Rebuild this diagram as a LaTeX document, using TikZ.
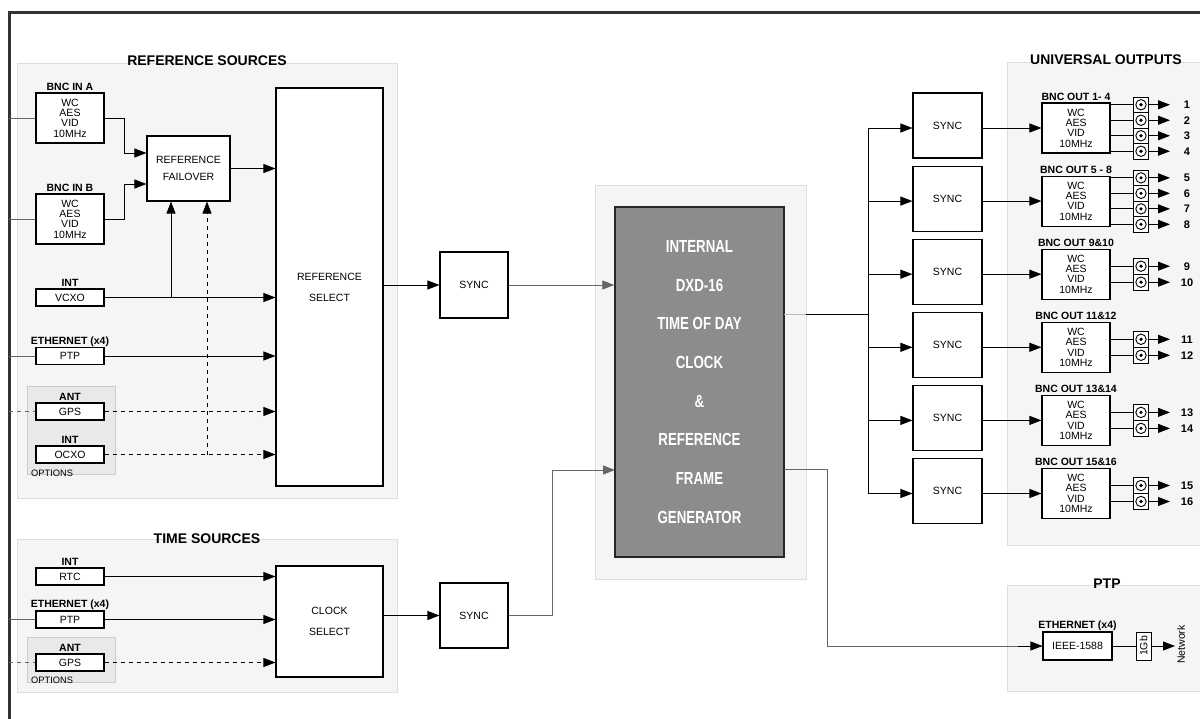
\documentclass[tikz,border=0pt]{standalone}
\usepackage{fontspec}
\setmainfont{Liberation Sans}
\newfontfamily\condfont[FakeStretch=0.76]{Liberation Sans}
\usepackage{tikz}
\usetikzlibrary{shapes,positioning,calc}
\usetikzlibrary{arrows.meta}
\definecolor{panelfill}{HTML}{F5F5F5}
\definecolor{panelline}{HTML}{DDDDDD}
\definecolor{optfill}{HTML}{E9E9E9}
\definecolor{optline}{HTML}{CCCCCC}
\definecolor{genfill}{HTML}{8C8C8C}
\definecolor{wiregray}{HTML}{666666}
\definecolor{framegray}{HTML}{333333}
\definecolor{lightline}{HTML}{BBBBBB}
\tikzstyle{source} = [rectangle, draw=black, line width=1.1pt, fill=white, minimum width=68pt, minimum height=17pt, inner sep=0pt, align=center, font=\fontsize{10.5}{10.3}\selectfont]
\tikzstyle{bncbox} = [source, minimum height=50pt]
\tikzstyle{block} = [rectangle, draw=black, line width=1.1pt, fill=white, inner sep=0pt, align=center, font=\fontsize{10.5}{21}\selectfont]
\tikzstyle{gen} = [rectangle, draw=black!85, line width=1.5pt, fill=genfill, minimum width=169pt, minimum height=350pt, inner sep=0pt, text=white, align=center, font=\condfont\bfseries\fontsize{17.5}{38.7}\selectfont]
\tikzstyle{tag} = [inner sep=0pt, text depth=0pt, font=\bfseries\fontsize{10.5}{12}\selectfont]
\tikzstyle{title} = [inner sep=0pt, font=\bfseries\fontsize{14}{16}\selectfont]
\tikzstyle{jack} = [rectangle, draw=black, line width=0.8pt, fill=white, minimum size=15.5pt, inner sep=0pt,
  path picture={\draw[black, line width=0.9pt] (path picture bounding box.center) circle (5.2pt);
  \fill[black] (path picture bounding box.center) circle (1.8pt);}]
\tikzstyle{panel} = [draw=panelline, fill=panelfill, line width=0.8pt]
\tikzstyle{options} = [draw=optline, fill=optfill, line width=1pt]
\tikzstyle{wire} = [line width=0.9pt, draw=wiregray]
\tikzstyle{arrow} = [line width=0.9pt, -{Triangle[length=12pt,width=9pt,color=black]}]
\tikzstyle{dasharrow} = [arrow, dash pattern=on 4pt off 4pt]
\tikzstyle{grayarrow} = [line width=0.9pt, draw=wiregray, -{Triangle[length=12pt,width=9pt,color=wiregray]}]

\begin{document}
\begin{tikzpicture}[x=1pt,y=-1pt]
\useasboundingbox (0,0) rectangle (1200,719);
% outer frame
\draw[line width=3pt, draw=framegray] (9,725) -- (9,12.5) -- (1210,12.5);
\coordinate (frame) at (9,0);

% panels
\draw[panel] (17,63) rectangle (397,498);
\node (reftitle) at (207,66) [title, anchor=base] {REFERENCE SOURCES};
\draw[panel] (17,539) rectangle (397,692);
\node (timetitle) at (207,543) [title, anchor=base] {TIME SOURCES};
\draw[panel] (595,185) rectangle (806,579);
\draw[panel] (1007,62) rectangle (1215,545);
\node (outtitle) at (1106,65) [title, anchor=base] {UNIVERSAL OUTPUTS};
\draw[panel] (1007,585) rectangle (1215,691);
\node (ptptitle) at (1107,588) [title, anchor=base] {PTP};
\draw[options] (27,387) rectangle (115,474);
\node (opt1) at (31,476) [anchor=base west, inner sep=0pt, font=\fontsize{9.3}{11}\selectfont] {OPTIONS};
\draw[options] (27,637) rectangle (115,682);
\node (opt2) at (31,683) [anchor=base west, inner sep=0pt, font=\fontsize{9.3}{11}\selectfont] {OPTIONS};

% reference sources
\node (bnca) at (70,118) [bncbox] {WC\\AES\\VID\\10MHz};
\node (lbla) [tag, above=2pt of bnca] {BNC IN A};
\node (bncb) at (70,219) [bncbox] {WC\\AES\\VID\\10MHz};
\node (lblb) [tag, above=2pt of bncb] {BNC IN B};
\node (vcxo) at (70,297.5) [source] {VCXO};
\node (lblv) [tag, above=2pt of vcxo] {INT};
\node (ptp) at (70,356) [source] {PTP};
\node (lblp) [tag, above=2.5pt of ptp] {ETHERNET (x4)};
\node (gps) at (70,411.5) [source] {GPS};
\node (lblg) [tag, above=2pt of gps] {ANT};
\node (ocxo) at (70,454.5) [source] {OCXO};
\node (lblo) [tag, above=2pt of ocxo] {INT};
\node (failover) at (188.5,168.5) [block, minimum width=83pt, minimum height=65pt, font=\fontsize{10.5}{17}\selectfont] {REFERENCE\\FAILOVER};
\node (refsel) at (329.5,287) [block, minimum width=107pt, minimum height=398pt] {REFERENCE\\SELECT};

\foreach \b in {bnca,bncb,ptp}
  \draw[wire] (\b.west -| frame) -- (\b.west);
\draw[wire, dash pattern=on 4pt off 4pt] (gps.west -| frame) -- (gps.west);

\draw[arrow] (bnca.east) -- ++(20,0) |- ($(failover.west)+(0,-15.5)$);
\draw[arrow] (bncb.east) -- ++(20,0) |- ($(failover.west)+(0,15.5)$);
\draw[arrow] (failover.east) -- (failover.east -| refsel.west);
\draw[arrow] (vcxo.east) -- (vcxo.east -| refsel.west);
\coordinate (tap) at (171,297.5);
\draw[arrow] (tap) -- (tap |- failover.south);
\coordinate (tapd) at (207,454.5);
\draw[dasharrow] (tapd) -- (tapd |- failover.south);
\draw[arrow] (ptp.east) -- (ptp.east -| refsel.west);
\draw[dasharrow] (gps.east) -- (gps.east -| refsel.west);
\draw[dasharrow] (ocxo.east) -- (ocxo.east -| refsel.west);

% time sources
\node (rtc) at (70,576.5) [source] {RTC};
\node (lblr) [tag, above=2pt of rtc] {INT};
\node (ptpt) at (70,619.5) [source] {PTP};
\node (lblpt) [tag, above=2.5pt of ptpt] {ETHERNET (x4)};
\node (gpst) at (70,662.5) [source] {GPS};
\node (lblgt) [tag, above=2pt of gpst] {ANT};
\node (clksel) at (329.5,621.5) [block, minimum width=107pt, minimum height=111pt] {CLOCK\\SELECT};
\draw[wire] (ptpt.west -| frame) -- (ptpt.west);
\draw[wire, dash pattern=on 4pt off 4pt] (gpst.west -| frame) -- (gpst.west);
\draw[arrow] (rtc.east) -- (rtc.east -| clksel.west);
\draw[arrow] (ptpt.east) -- (ptpt.east -| clksel.west);
\draw[dasharrow] (gpst.east) -- (gpst.east -| clksel.west);

% sync to generator
\node (sync1) at (474,285) [block, minimum width=68pt, minimum height=66pt] {SYNC};
\node (sync2) at (474,615.5) [block, minimum width=68pt, minimum height=65pt] {SYNC};
\draw[arrow] (refsel.east |- sync1) -- (sync1.west);
\draw[arrow] (clksel.east |- sync2) -- (sync2.west);
\node (gen) at (699.5,382) [gen] {INTERNAL\\DXD-16\\TIME OF DAY\\CLOCK\\\&\\REFERENCE\\FRAME\\GENERATOR};
\coordinate (gin2) at (615,470);
\draw[grayarrow] (sync1.east) -- (sync1.east -| gen.west);
\draw[grayarrow] (sync2.east) -- ++(44,0) |- (gin2);

% universal outputs
\coordinate (gout1) at (784,314);
\coordinate (panelout) at (806,314);
\coordinate (busc) at (868,314);
\draw[line width=0.9pt, draw=lightline] (gout1) -- (panelout);
\draw[line width=0.9pt] (panelout) -- (busc);
\foreach \i/\name in {1/{BNC OUT 1- 4},2/{BNC OUT 5 - 8},3/{BNC OUT 9\&10},4/{BNC OUT 11\&12},5/{BNC OUT 13\&14},6/{BNC OUT 15\&16}}{
  \pgfmathsetmacro\y{128+73.1*(\i-1)}
  \coordinate (bus\i) at (868,\y);
  \node (syncr\i) at (947.5,\y-2.5) [block, minimum width=69pt, minimum height=65pt] {SYNC};
  \node (bnc\i) at (1076,\y) [bncbox] {WC\\AES\\VID\\10MHz};
  \node (bnclbl\i) [tag, above=2pt of bnc\i] {\name};
  \draw[arrow] (bus\i) -- (bus\i -| syncr\i.west);
  \draw[arrow] (syncr\i.east |- bus\i) -- (bnc\i.west);
}
\draw[line width=0.9pt] (bus1) -- (bus6);
\foreach \n/\r/\d in {1/1/-23.25,2/1/-7.75,3/1/7.75,4/1/23.25,5/2/-23.25,6/2/-7.75,7/2/7.75,8/2/23.25,9/3/-8,10/3/8,11/4/-8,12/4/8,13/5/-8,14/5/8,15/6/-8,16/6/8}{
  \pgfmathsetmacro\yy{128+73.1*(\r-1)+\d}
  \node (jack\n) at (1141,\yy) [jack] {};
  \coordinate (tip\n) at (1170,\yy);
  \node (num\n) at (1187,\yy) [tag, font=\bfseries\fontsize{11}{12}\selectfont] {\n};
  \draw[line width=0.9pt] (bnc\r.east |- jack\n) -- (jack\n.west);
  \draw[arrow] (jack\n.east) -- (tip\n);
}

% ptp output
\node (ieee) at (1077.5,646) [source, minimum width=69pt, minimum height=28pt] {IEEE-1588};
\node (lblie) [tag, above=3pt of ieee] {ETHERNET (x4)};
\node (gb) at (1143.5,646) [source, minimum width=15pt, minimum height=28pt, line width=0.8pt] {\rotatebox{90}{1Gb}};
\node (net) at (1181,644.5) [inner sep=0pt, font=\fontsize{10.5}{12}\selectfont] {\rotatebox{90}{Network}};
\coordinate (nettip) at (1175,646);
\coordinate (gout2) at (784,469);
\draw[wire] (gout2) -- ++(43,0) |- (ieee.west);
\draw[arrow] ($(ieee.west)+(-24,0)$) -- (ieee.west);
\draw[line width=0.9pt] (ieee.east) -- (gb.west);
\draw[arrow] (gb.east) -- (nettip);
\end{tikzpicture}
\end{document}
